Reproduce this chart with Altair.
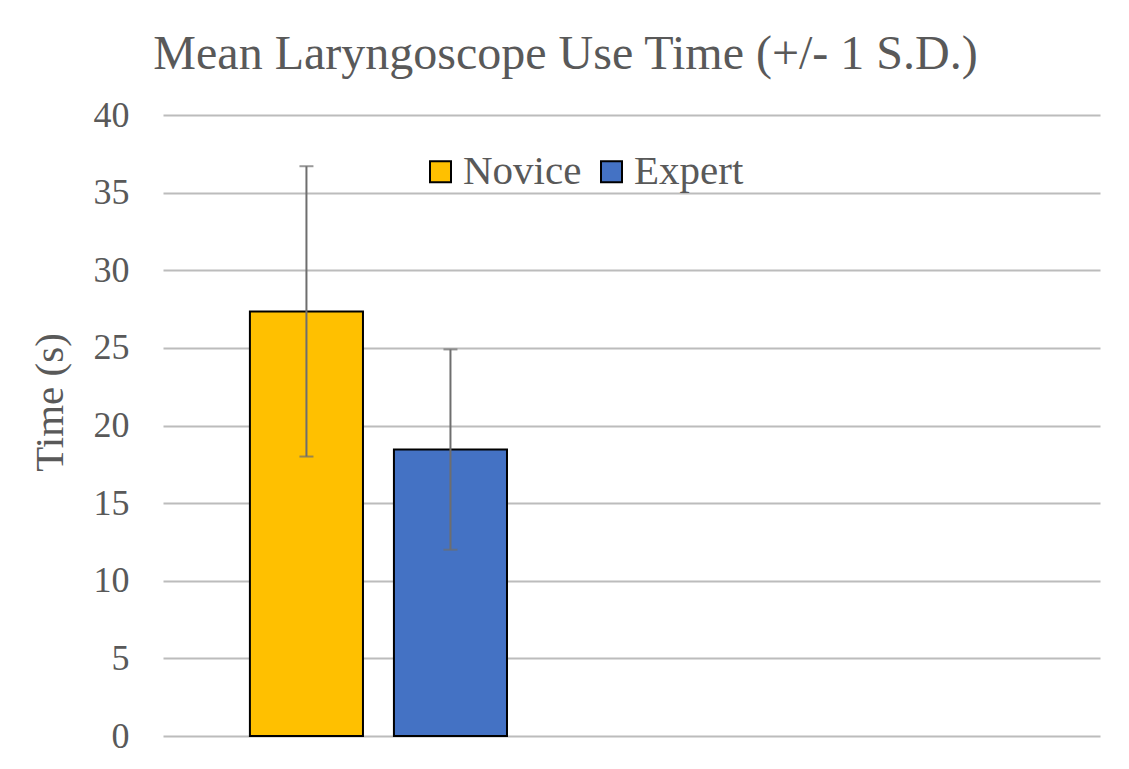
import altair as alt
import pandas as pd

groups = ["Novice", "Expert"]
means = [27.35, 18.45]
sds = [9.35, 6.45]
colors = ["#FFC000", "#4472C4"]
y_ticks = [0, 5, 10, 15, 20, 25, 30, 35, 40]
# empty slots on the category axis (no data), as in the source chart's layout
empty_slots = ["_a", "_b", "_c", "_d"]

df = pd.DataFrame({"group": groups, "mean": means, "sd": sds})
df["lo"] = df["mean"] - df["sd"]
df["hi"] = df["mean"] + df["sd"]

FONT = "Liberation Serif"
TXT = "#595959"

xscale = alt.Scale(domain=groups + empty_slots, paddingInner=0.215,
                   paddingOuter=0.3605, align=0.837)
yscale = alt.Scale(domain=[0, 40], nice=False)

x = alt.X("group:N", scale=xscale, axis=None)

bars = alt.Chart(df).mark_bar(stroke="black", strokeWidth=2).encode(
    x=x,
    y=alt.Y("mean:Q", scale=yscale,
            axis=alt.Axis(values=y_ticks, title="Time (s)", ticks=False, tickSize=0,
                          domain=False, labelPadding=34, labelFontSize=36,
                          labelFont=FONT, labelColor=TXT, titleFont=FONT,
                          titleFontSize=41, titleFontWeight="normal", titleColor=TXT,
                          titlePadding=22, titleY=287, gridColor="#bcbcbc",
                          gridWidth=2)),
    color=alt.Color("group:N", scale=alt.Scale(domain=groups, range=colors),
                    sort=groups,
                    legend=alt.Legend(title=None, orient="none", legendX=257, legendY=36,
                                      direction="horizontal", symbolType="square",
                                      symbolSize=441, symbolStrokeColor="black",
                                      symbolStrokeWidth=2, labelFontSize=41,
                                      labelFont=FONT, labelColor=TXT, labelOffset=2,
                                      columnPadding=9)),
)

rules = alt.Chart(df).mark_rule(color="#6e6e6e", strokeWidth=2).encode(
    x=x, y=alt.Y("lo:Q", scale=yscale), y2="hi:Q"
)
caps_hi = alt.Chart(df).mark_tick(color="#6e6e6e", thickness=2, size=14, orient="horizontal").encode(
    x=x, y=alt.Y("hi:Q", scale=yscale)
)
caps_lo = alt.Chart(df).mark_tick(color="#6e6e6e", thickness=2, size=14, orient="horizontal").encode(
    x=x, y=alt.Y("lo:Q", scale=yscale)
)

chart = alt.layer(bars, rules, caps_hi, caps_lo).properties(
    width=937, height=621,
    title=alt.TitleParams("Mean Laryngoscope Use Time (+/- 1 S.D.)", font=FONT,
                          fontSize=48, fontWeight="normal", color=TXT,
                          anchor="middle", dx=-66, offset=18),
    autosize=alt.AutoSizeParams(type="none"),
    padding={"left": 155, "top": 107, "right": 21, "bottom": 25},
).configure(background="white").configure_view(stroke="transparent", strokeWidth=0)

chart.save("out.html", embed_options={"renderer": "svg", "actions": False})
